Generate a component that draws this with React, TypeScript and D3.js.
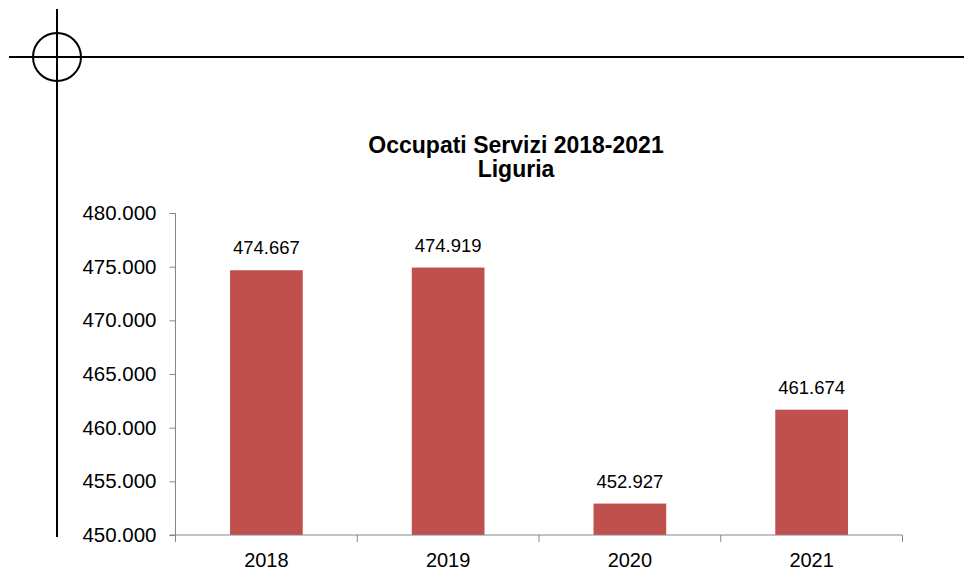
import { useEffect, useRef } from 'react';
import * as d3 from 'd3';

const years = ['2018', '2019', '2020', '2021'];
const occupati = [474667, 474919, 452927, 461674];
const yTicks = [450000, 455000, 460000, 465000, 470000, 475000, 480000];
const titleLines = ['Occupati Servizi 2018-2021', 'Liguria'];

const fmt = (v: number) => d3.format(',.0f')(v).replace(/,/g, '.');

export default function App() {
  const svgRef = useRef<SVGSVGElement>(null);

  useEffect(() => {
    if (!svgRef.current) return;
    const svg = d3.select(svgRef.current);
    svg.selectAll('*').remove();

    const font = '"Liberation Sans", Arial, sans-serif';
    const axisColor = '#868686';

    // crop mark
    const mark = svg.append('g').attr('stroke', '#000').attr('stroke-width', 2).attr('fill', 'none');
    mark.append('line').attr('x1', 57).attr('y1', 9).attr('x2', 57).attr('y2', 537);
    mark.append('line').attr('x1', 9).attr('y1', 57).attr('x2', 964).attr('y2', 57);
    mark.append('circle').attr('cx', 57).attr('cy', 57).attr('r', 24);

    const left = 175.5;
    const right = 902.5;
    const top = 213;
    const bottom = 535;

    const x = d3.scaleBand<string>().domain(years).range([left, right]).paddingInner(0.6).paddingOuter(0.3);
    const y = d3.scaleLinear().domain([450000, 480000]).range([bottom, top]);

    // title
    svg
      .append('text')
      .attr('x', 516)
      .attr('y', 153)
      .attr('text-anchor', 'middle')
      .style('font-family', font)
      .style('font-weight', 'bold')
      .style('font-size', '23px')
      .selectAll('tspan')
      .data(titleLines)
      .enter()
      .append('tspan')
      .attr('x', 516)
      .attr('dy', (_, i) => (i === 0 ? 0 : 24))
      .text((d) => d);

    // bars
    svg
      .selectAll('.bar')
      .data(occupati)
      .enter()
      .append('rect')
      .attr('class', 'bar')
      .attr('x', (_, i) => x(years[i])!)
      .attr('y', (d) => y(d))
      .attr('width', x.bandwidth())
      .attr('height', (d) => bottom - y(d))
      .attr('fill', '#C0504D');

    // data labels
    svg
      .selectAll('.lbl')
      .data(occupati)
      .enter()
      .append('text')
      .attr('class', 'lbl')
      .attr('x', (_, i) => x(years[i])! + x.bandwidth() / 2)
      .attr('y', (d) => y(d) - 16)
      .attr('text-anchor', 'middle')
      .style('font-family', font)
      .style('font-size', '18.5px')
      .attr('fill', '#000')
      .text((d) => fmt(d));

    // y axis
    const yAxis = svg
      .append('g')
      .attr('transform', `translate(${left},0)`)
      .call(d3.axisLeft(y).tickValues(yTicks).tickSize(6).tickPadding(13).tickFormat((d) => fmt(+d)));
    yAxis.select('.domain').attr('stroke', axisColor).attr('d', `M0,${top}V${bottom + 7}`);
    yAxis.selectAll('.tick line').attr('stroke', axisColor);
    yAxis
      .selectAll('.tick text')
      .style('font-family', font)
      .style('font-size', '20.5px')
      .attr('fill', '#000');

    // x axis
    const step = x.step();
    const bounds = d3.range(years.length + 1).map((i) => left + i * step);
    const xAxis = svg.append('g');
    xAxis
      .append('line')
      .attr('x1', left - 6)
      .attr('x2', right)
      .attr('y1', bottom)
      .attr('y2', bottom)
      .attr('stroke', axisColor);
    xAxis
      .selectAll('.xt')
      .data(bounds)
      .enter()
      .append('line')
      .attr('x1', (d) => d)
      .attr('x2', (d) => d)
      .attr('y1', bottom)
      .attr('y2', bottom + 7)
      .attr('stroke', axisColor);
    xAxis
      .selectAll('.xl')
      .data(years)
      .enter()
      .append('text')
      .attr('x', (d) => x(d)! + x.bandwidth() / 2)
      .attr('y', bottom + 32)
      .attr('text-anchor', 'middle')
      .style('font-family', font)
      .style('font-size', '20px')
      .attr('fill', '#000')
      .text((d) => d);
  }, []);

  return (
    <svg
      ref={svgRef}
      width={964}
      height={570}
      style={{ position: 'absolute', left: 0, top: 0, background: '#fff' }}
    />
  );
}
